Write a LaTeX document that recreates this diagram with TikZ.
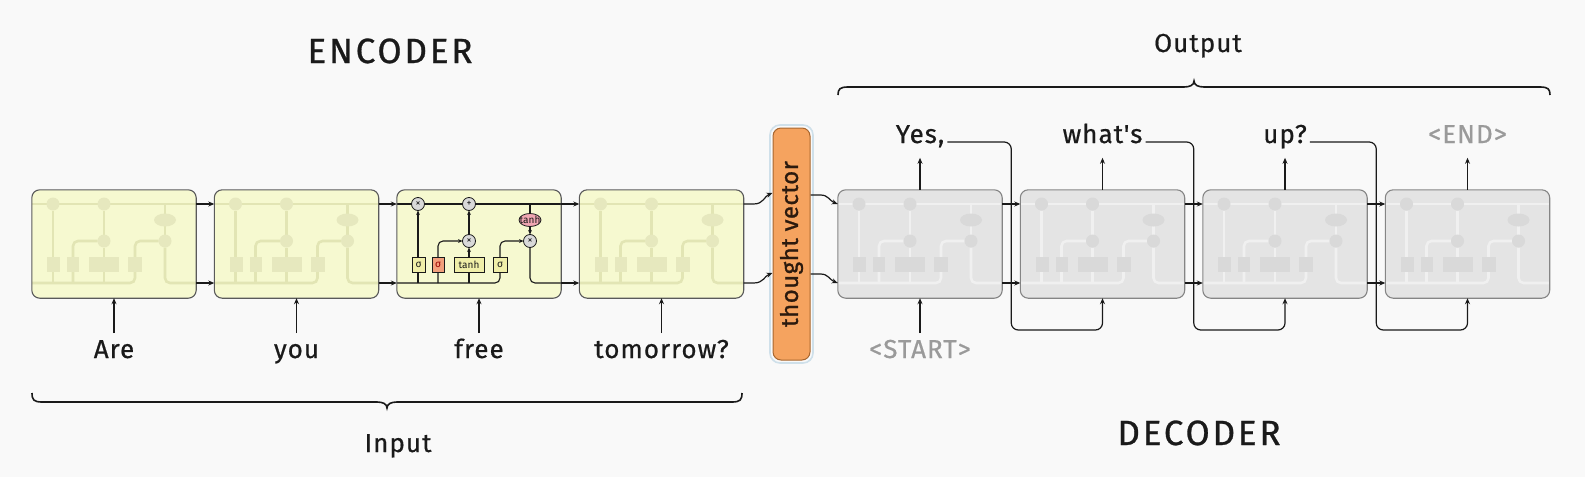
\documentclass[tikz,border=0pt]{standalone}
\usepackage{fontspec}
\setmainfont{Fira Sans}
\newfontfamily\wordfont[LetterSpace=4,FakeBold=0.6]{Fira Sans}
\newfontfamily\headfont[LetterSpace=8,FakeBold=0.8]{Fira Sans}
\newfontfamily\tvfont[LetterSpace=2,FakeBold=1.0]{Fira Sans}
\newfontfamily\plainfont{Fira Sans}
\usetikzlibrary{arrows.meta,calc}
\definecolor{bg}{HTML}{F9F9F9}
\definecolor{encfill}{HTML}{F6F9D0}
\definecolor{celldraw}{HTML}{5A5A5A}
\definecolor{fadeE}{HTML}{E2E5B4}
\definecolor{fadeEbox}{HTML}{E6E8BE}
\definecolor{decfill}{HTML}{E4E4E4}
\definecolor{decdraw}{HTML}{858585}
\definecolor{fadeD}{HTML}{F0F0F0}
\definecolor{fadeDbox}{HTML}{D9D9D9}
\definecolor{tvfill}{HTML}{F5A35F}
\definecolor{tvdraw}{HTML}{A8662E}
\definecolor{tvhalo}{HTML}{CFE0EA}
\definecolor{tvtext}{HTML}{2B1A0E}
\definecolor{gatefill}{HTML}{F0EFA9}
\definecolor{gatered}{HTML}{F2A07C}
\definecolor{opfill}{HTML}{D9D9D9}
\definecolor{tanhfill}{HTML}{F0A6B2}
\definecolor{graytext}{HTML}{9A9A9A}
\definecolor{ink}{HTML}{1A1A1A}

\newcommand\lstminner[1]{%
  \draw[inln] (0,14) -- (164,14);
  \draw[inarr,rounded corners=5] (0,93) -- (103,93) -- (103,51) -- (126.5,51);
  \draw[inarr] (21,93) -- (21,20.5);
  \draw[inarr,rounded corners=5] (41,93) -- (41,51) -- (65.5,51);
  \draw[inarr] (72,93) -- (72,57.5);
  \draw[inarr] (72,44.5) -- (72,20.5);
  \draw[inln] (133,14) -- (133,24);
  \draw[inarr] (133,36) -- (133,44.5);
  \draw[inln,rounded corners=5] (133,57.5) -- (133,93) -- (164,93);
  \path[ingate] (15,67) rectangle (28,82);
  \path[ingatered] (35,67) rectangle (47,82);
  \path[ingate] (57,67) rectangle (87,82);
  \path[ingate] (96,67) rectangle (110,82);
  \path[inop] (21,14) circle[radius=6.5];
  \path[inop] (72,14) circle[radius=6.5];
  \path[inop] (72,51) circle[radius=6.5];
  \path[inop] (133,51) circle[radius=6.5];
  \path[intanh] (133,30) ellipse[x radius=11, y radius=6.5];
  \ifnum#1=1
    \node[gtext] (gf) at (21.5,74.5) {σ};
    \node[gtext,text=red!60!black] (gi) at (41,74.5) {σ};
    \node[gtext] (gc) at (72,74.5) {tanh};
    \node[gtext] (go) at (103,74.5) {σ};
    \node[gtext] (mf) at (21,14) {×};
    \node[gtext] (ac) at (72,14) {+};
    \node[gtext] (mi) at (72,51) {×};
    \node[gtext] (mo) at (133,51) {×};
    \node[gtext] (th) at (133,30) {tanh};
  \fi
}

\begin{document}
\begin{tikzpicture}[x=1pt,y=-1pt,
  enccell/.style={fill=encfill, rounded corners=8pt, minimum width=164pt, minimum height=108pt, inner sep=0pt},
  deccell/.style={fill=decfill, rounded corners=8pt, minimum width=164pt, minimum height=108pt, inner sep=0pt},
  encborder/.style={draw=celldraw, line width=1.1pt, rounded corners=8pt},
  decborder/.style={draw=decdraw, line width=1.1pt, rounded corners=8pt},
  conn/.style={draw=ink, line width=1.2pt, -{Stealth[length=6pt,width=5pt]}},
  word/.style={font=\wordfont\fontsize{26}{30}\selectfont, text=ink, inner sep=0pt, anchor=base},
  grayword/.style={word, text=graytext},
  head/.style={font=\headfont\fontsize{35}{40}\selectfont, text=ink, inner sep=0pt, anchor=base},
  gtext/.style={font=\plainfont\fontsize{10}{10}\selectfont, inner sep=0pt, text=ink},
  tvbox/.style={fill=tvfill, draw=tvdraw, line width=1pt, rounded corners=8pt, minimum width=37pt, minimum height=232pt, inner sep=0pt},
  bracestyle/.style={draw=ink, line width=1.6pt},
  fadedE/.style={inln/.style={draw=fadeE,line width=2.6pt}, inarr/.style={draw=fadeE,line width=2.6pt},
     ingate/.style={fill=fadeEbox}, ingatered/.style={fill=fadeEbox}, inop/.style={fill=fadeEbox}, intanh/.style={fill=fadeEbox}},
  fadedD/.style={inln/.style={draw=fadeD,line width=2.6pt}, inarr/.style={draw=fadeD,line width=2.6pt},
     ingate/.style={fill=fadeDbox}, ingatered/.style={fill=fadeDbox}, inop/.style={fill=fadeDbox}, intanh/.style={fill=fadeDbox}},
  detailed/.style={inln/.style={draw=ink,line width=1.1pt}, inarr/.style={draw=ink,line width=1.1pt,-{Stealth[length=4.5pt,width=3.8pt]}},
     ingate/.style={fill=gatefill,draw=ink,line width=0.8pt}, ingatered/.style={fill=gatered,draw=ink,line width=0.8pt},
     inop/.style={fill=opfill,draw=ink,line width=0.8pt}, intanh/.style={fill=tanhfill,draw=ink,line width=0.8pt}}
]
\fill[bg] (0,0) rectangle (1585,477);
\useasboundingbox (0,0) rectangle (1585,477);

% ---------- encoder cells ----------
\foreach \i/\cx in {1/114,2/296.5,3/479,4/661.5}
  \node[enccell] (e\i) at (\cx,244) {};
\foreach \lx in {32,214.5,579.5}{
  \begin{scope}[shift={(\lx,190)}, fadedE]
    \lstminner{0}
  \end{scope}
}
\begin{scope}[shift={(397,190)}, detailed]
  \lstminner{1}
\end{scope}
\foreach \i in {1,2,3,4}
  \draw[encborder] (e\i.south west) rectangle (e\i.north east);

% ---------- decoder cells ----------
\foreach \i/\cx in {1/920,2/1102.5,3/1285,4/1467.5}
  \node[deccell] (d\i) at (\cx,244) {};
\foreach \lx in {838,1020.5,1203,1385.5}{
  \begin{scope}[shift={(\lx,190)}, fadedD]
    \lstminner{0}
  \end{scope}
}
\foreach \i in {1,2,3,4}
  \draw[decborder] (d\i.south west) rectangle (d\i.north east);

% ---------- thought vector ----------
\node[tvbox] (tv) at (791.5,244) {};
\draw[draw=tvhalo, line width=1.6pt, rounded corners=10pt] ($(tv.south west)+(-2.5,2.5)$) rectangle ($(tv.north east)+(2.5,-2.5)$);
\node[rotate=90, font=\tvfont\fontsize{24}{28}\selectfont, text=tvtext, inner sep=0pt] (tvlabel) at (tv.center) {thought vector};

% ---------- encoder links ----------
\foreach \i/\j in {1/2,2/3,3/4}{
  \draw[conn] ($(e\i.east)+(0,-40)$) -- ($(e\j.west)+(0,-40)$);
  \draw[conn] ($(e\i.east)+(0,39)$) -- ($(e\j.west)+(0,39)$);
}
\draw[conn] ($(e4.east)+(0,-40)$) -- ++(10,0) .. controls +(10,0) and +(-8,3) .. ($(tv.west)+(0,-51)$);
\draw[conn] ($(e4.east)+(0,39)$) -- ++(10,0) .. controls +(10,0) and +(-8,3) .. ($(tv.west)+(0,29)$);
\draw[conn] ($(tv.east)+(0,-49)$) -- ++(10,0) .. controls +(8,0) and +(-8,-3) .. ($(d1.west)+(0,-40)$);
\draw[conn] ($(tv.east)+(0,30)$) -- ++(10,0) .. controls +(8,0) and +(-8,-3) .. ($(d1.west)+(0,39)$);

% ---------- decoder links ----------
\foreach \i/\j in {1/2,2/3,3/4}{
  \draw[conn] ($(d\i.east)+(0,-40)$) -- ($(d\j.west)+(0,-40)$);
  \draw[conn] ($(d\i.east)+(0,39)$) -- ($(d\j.west)+(0,39)$);
}

% ---------- input words ----------
\node[word] (w1) at (114,358) {Are};
\node[word] (w2) at (296.5,358) {you};
\node[word] (w3) at (479,358) {free};
\node[word] (w4) at (661.5,358) {tomorrow?};
\node[grayword] (w5) at (920,358) {<START>};
\foreach \i in {1,2,3,4}
  \draw[conn] ($(e\i.south)+(0,35)$) -- (e\i.south);
\draw[conn] ($(d1.south)+(0,35)$) -- (d1.south);

% ---------- output words ----------
\node[word] (o1) at (920,143) {Yes,};
\node[word] (o2) at (1102.5,143) {what's};
\node[word] (o3) at (1285,143) {up?};
\node[grayword] (o4) at (1467.5,143) {<END>};
\foreach \i in {1,2,3,4}
  \draw[conn] (d\i.north) -- ($(d\i.north)+(0,-32)$);

% ---------- feedback loops ----------
\coordinate (fb) at (0,330);
\foreach \i/\j in {1/2,2/3,3/4}{
  \coordinate (g\i) at ($(d\i.east)!0.5!(d\j.west)$);
  \coordinate (s\i) at ($(o\i.base east)+(3,-1)$);
  \draw[conn, rounded corners=7pt] (s\i) -| (g\i |- fb) -| (d\j.south);
}

% ---------- braces ----------
\draw[bracestyle] (32,393) .. controls (32,400) and (34,402) .. (42,402) -- (377,402)
   .. controls (383,402) and (387,404) .. (387,408) .. controls (387,404) and (391,402) .. (397,402)
   -- (732,402) .. controls (740,402) and (742,400) .. (742,393);
\draw[bracestyle] (838,95) .. controls (838,89) and (840,87) .. (848,87) -- (1184,87)
   .. controls (1190,87) and (1194,85) .. (1194,81) .. controls (1194,85) and (1198,87) .. (1204,87)
   -- (1540,87) .. controls (1548,87) and (1550,89) .. (1550,95);

% ---------- titles ----------
\node[head] (enc) at (390,63) {ENCODER};
\node[head] (dec) at (1199,445) {DECODER};
\node[word] (inp) at (398,452) {Input};
\node[word] (outp) at (1198,52) {Output};
\end{tikzpicture}
\end{document}
